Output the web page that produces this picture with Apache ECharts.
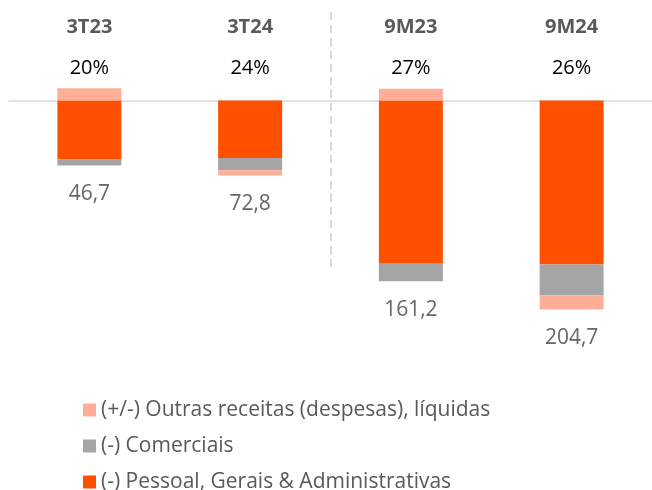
<!DOCTYPE html>
<html>
<head>
<meta charset="utf-8">
<script src="https://cdn.jsdelivr.net/npm/echarts@6/dist/echarts.min.js"></script>
<style>
html, body { margin: 0; padding: 0; background: #fff; }
#main { width: 652px; height: 490px; }
</style>
</head>
<body>
<div id="main"></div>
<script>
// dados
var categories = [ '3T23', '3T24', '9M23', '9M24' ];
var margens = [ '20%', '24%', '27%', '26%' ];
var pessoal = [ -57.8, -56.5, -160.0, -160.6 ];
var comerciais = [ -5.9, -12.0, -17.0, -30.4 ];
var outras = [ 12.0, -4.9, 11.5, -13.7 ];
var totais = [ '46,7', '72,8', '161,2', '204,7' ];

// fundo de cada barra (soma dos negativos), para o rótulo do total
var fundos = categories.map(function (c, i) {
	return [ pessoal[i], comerciais[i], outras[i] ].reduce(function (s, v) {
		return v < 0 ? s + v : s;
	}, 0);
});

var fonte = 'Open Sans';
var myChart = echarts.init(document.getElementById('main'));
var option = {
	animation : false,
	textStyle : {
		fontFamily : fonte
	},
	color : [ '#FFAF98', '#A5A5A5', '#FF5000' ],
	legend : {
		orient : 'vertical',
		left : 78,
		top : 391,
		height : 120,
		itemWidth : 13,
		itemHeight : 13,
		itemGap : 8,
		icon : 'rect',
		data : [ '(+/-) Outras receitas (despesas), líquidas', '(-) Comerciais',
				'(-) Pessoal, Gerais & Administrativas' ],
		textStyle : {
			fontSize : 21,
			lineHeight : 28,
			color : '#595959',
			fontFamily : fonte
		}
	},
	grid : [ {
		left : 9,
		width : 645,
		top : 80,
		height : 265.5
	}, {
		left : 9,
		width : 645,
		top : 12,
		height : 258
	} ],
	xAxis : [ {
		type : 'category',
		data : categories,
		axisLine : {
			onZero : true,
			lineStyle : {
				color : '#D9D9D9',
				width : 1.5
			}
		},
		axisTick : {
			show : false
		},
		axisLabel : {
			show : false
		}
	}, {
		type : 'category',
		position : 'top',
		data : margens,
		axisLine : {
			show : false
		},
		axisTick : {
			show : false
		},
		axisLabel : {
			margin : 2,
			fontSize : 20,
			color : '#000000',
			fontFamily : fonte
		}
	}, {
		type : 'category',
		position : 'top',
		data : categories,
		axisLine : {
			show : false
		},
		axisTick : {
			show : false
		},
		axisLabel : {
			margin : 43,
			fontSize : 20,
			fontWeight : 'bold',
			color : '#595959',
			fontFamily : fonte
		}
	}, {
		// separador tracejado entre trimestres e 9 meses
		type : 'value',
		gridIndex : 1,
		min : 0,
		max : 4,
		interval : 2,
		axisLine : {
			show : false
		},
		axisTick : {
			show : false
		},
		axisLabel : {
			show : false
		},
		splitLine : {
			show : true,
			showMinLine : false,
			showMaxLine : false,
			lineStyle : {
				color : '#D9D9D9',
				width : 2,
				type : [ 8, 5 ]
			}
		}
	} ],
	yAxis : [ {
		type : 'value',
		min : -240,
		max : 20,
		show : false,
		splitLine : {
			show : false
		}
	}, {
		type : 'value',
		gridIndex : 1,
		show : false,
		splitLine : {
			show : false
		}
	} ],
	series : [ {
		name : '(-) Pessoal, Gerais & Administrativas',
		type : 'bar',
		stack : 'total',
		barWidth : 64,
		color : '#FF5000',
		data : pessoal
	}, {
		name : '(-) Comerciais',
		type : 'bar',
		stack : 'total',
		barWidth : 64,
		color : '#A5A5A5',
		data : comerciais
	}, {
		name : '(+/-) Outras receitas (despesas), líquidas',
		type : 'bar',
		stack : 'total',
		barWidth : 64,
		color : '#FFAF98',
		data : outras
	}, {
		name : 'total',
		type : 'scatter',
		symbolSize : 0,
		data : fundos,
		label : {
			show : true,
			position : 'bottom',
			distance : 18,
			fontSize : 21,
			color : '#404040',
			fontFamily : fonte,
			formatter : function (p) {
				return totais[p.dataIndex];
			}
		}
	} ]
};
myChart.setOption(option);
</script>
</body>
</html>
